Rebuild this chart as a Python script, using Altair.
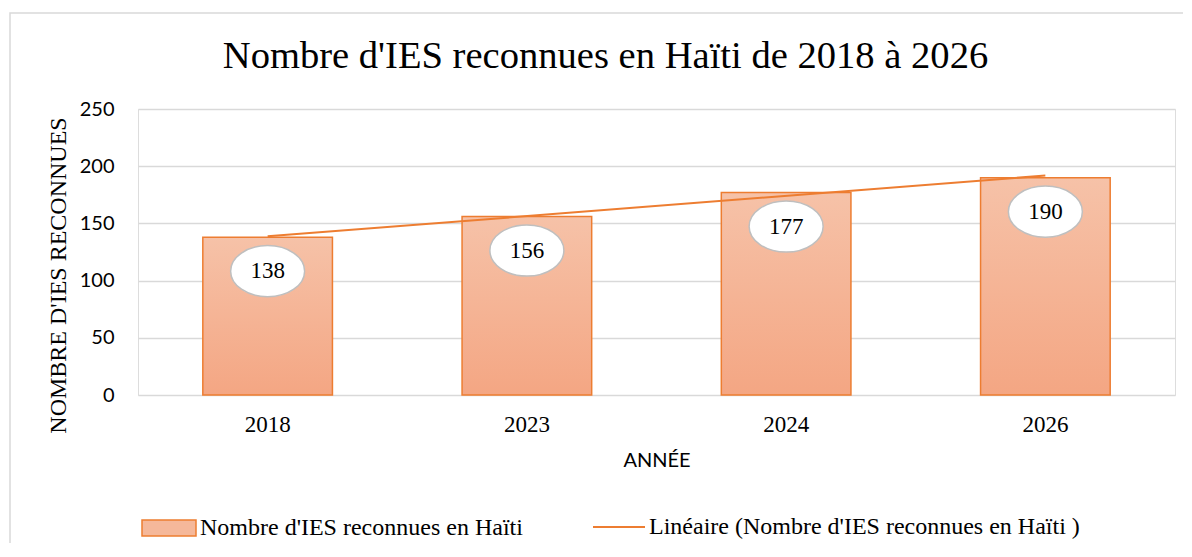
import altair as alt
import pandas as pd

# ---- data ----
years = ["2018", "2023", "2024", "2026"]
counts = [138, 156, 177, 190]
order_idx = [1, 2, 3, 4]
y_ticks = [0, 50, 100, 150, 200, 250]

title_txt = "Nombre d'IES reconnues en Haïti de 2018 à 2026"
series_lbl = "Nombre d'IES reconnues en Haïti"
trend_lbl = "Linéaire (Nombre d'IES reconnues en Haïti )"
x_title = "ANNÉE"
y_title = "NOMBRE D'IES RECONNUES"

df = pd.DataFrame({"year": years, "count": counts, "idx": order_idx})
df["series"] = series_lbl
df["trend"] = trend_lbl

ORANGE = "#ED7D31"
GRID = "#D9D9D9"
SERIF = "Liberation Serif"
SANS = "Lato"

W, H = 1037, 286
PAD = {"left": 130, "top": 101, "right": 8, "bottom": 148}

X = alt.X(
    "year:N",
    sort=years,
    scale=alt.Scale(paddingInner=0.5, paddingOuter=0.25),
    axis=alt.Axis(
        title=x_title, labelAngle=0, domain=False, ticks=False,
        labelFont=SERIF, labelFontSize=23, labelColor="black", labelPadding=18,
        titleFont=SANS, titleFontSize=20, titleFontWeight="normal", titleColor="black",
        titleY=71, titleBaseline="alphabetic",
    ),
)
Y = alt.Y(
    "count:Q",
    scale=alt.Scale(domain=[0, 250]),
    axis=alt.Axis(
        values=y_ticks, title=y_title, domain=False, ticks=False,
        grid=True, gridColor=GRID, gridWidth=1.3,
        labelFont=SANS, labelFontSize=20, labelColor="black", labelPadding=24,
        titleFont=SERIF, titleFontSize=24, titleFontWeight="normal", titleColor="black",
        titleX=-73, titleY=166, titleBaseline="alphabetic", titleAngle=270, titleAlign="center",
    ),
)

base = alt.Chart(df)

frame = alt.Chart(alt.Data(values=[{}])).mark_rect(
    fillOpacity=0, stroke=GRID, strokeWidth=1.5
).encode(
    x=alt.value(-128), x2=alt.value(1150), y=alt.value(-96), y2=alt.value(700)
)

legend_bar = base.mark_bar(opacity=0).encode(
    x=X, y=Y,
    fill=alt.Fill(
        "series:N",
        scale=alt.Scale(domain=[series_lbl], range=["#F5B89A"]),
        legend=alt.Legend(
            title=None, orient="none", legendX=3, legendY=391, padding=0,
            symbolType="M-1,-0.3H1V0.3H-1Z", symbolSize=2916,
            symbolOpacity=1, symbolStrokeColor=ORANGE, symbolStrokeWidth=1.5,
            labelFont=SERIF, labelFontSize=24, labelColor="black", labelOffset=3,
            labelLimit=600,
        ),
    ),
)

bars = base.mark_bar(
    fill=alt.Gradient(
        gradient="linear", x1=0, x2=0, y1=0, y2=1,
        stops=[alt.GradientStop(color="#F6C2A8", offset=0),
               alt.GradientStop(color="#F4A683", offset=1)],
    ),
    stroke=ORANGE, strokeWidth=1.5,
).encode(x=X, y=Y)

trend = base.transform_regression(
    "idx", "count"
).transform_lookup(
    lookup="idx", from_=alt.LookupData(df, key="idx", fields=["year", "trend"])
).mark_line(strokeWidth=2).encode(
    x=X, y=Y,
    stroke=alt.Stroke(
        "trend:N",
        scale=alt.Scale(domain=[trend_lbl], range=[ORANGE]),
        legend=alt.Legend(
            title=None, orient="none", legendX=454, legendY=391, padding=0,
            symbolType="stroke", symbolSize=2704, symbolStrokeWidth=2,
            labelFont=SERIF, labelFontSize=24, labelColor="black", labelOffset=3,
            labelLimit=700,
        ),
    ),
)

ellipses = base.mark_point(
    shape="M-1,0A1,0.69,0,1,0,1,0A1,0.69,0,1,0,-1,0Z",
    size=5476, filled=True, fill="white", stroke="#BFBFBF", strokeWidth=1.5,
    opacity=1, yOffset=34,
).encode(x=X, y=Y)

labels = base.mark_text(
    font=SERIF, fontSize=23, color="black", dy=34, baseline="middle"
).encode(x=X, y=Y, text="count:Q")

chart = alt.layer(
    frame, legend_bar, bars, trend, ellipses, labels
).properties(
    width=W, height=H,
    padding=PAD,
    autosize=alt.AutoSizeParams(type="none"),
    title=alt.Title(
        title_txt, font=SERIF, fontSize=38.6, fontWeight="normal", color="black",
        anchor="middle", dx=-51, offset=-94, baseline="alphabetic",
    ),
).configure_view(strokeWidth=0).configure(background="white")

chart.save("out.html", embed_options={"renderer": "svg", "actions": False})
